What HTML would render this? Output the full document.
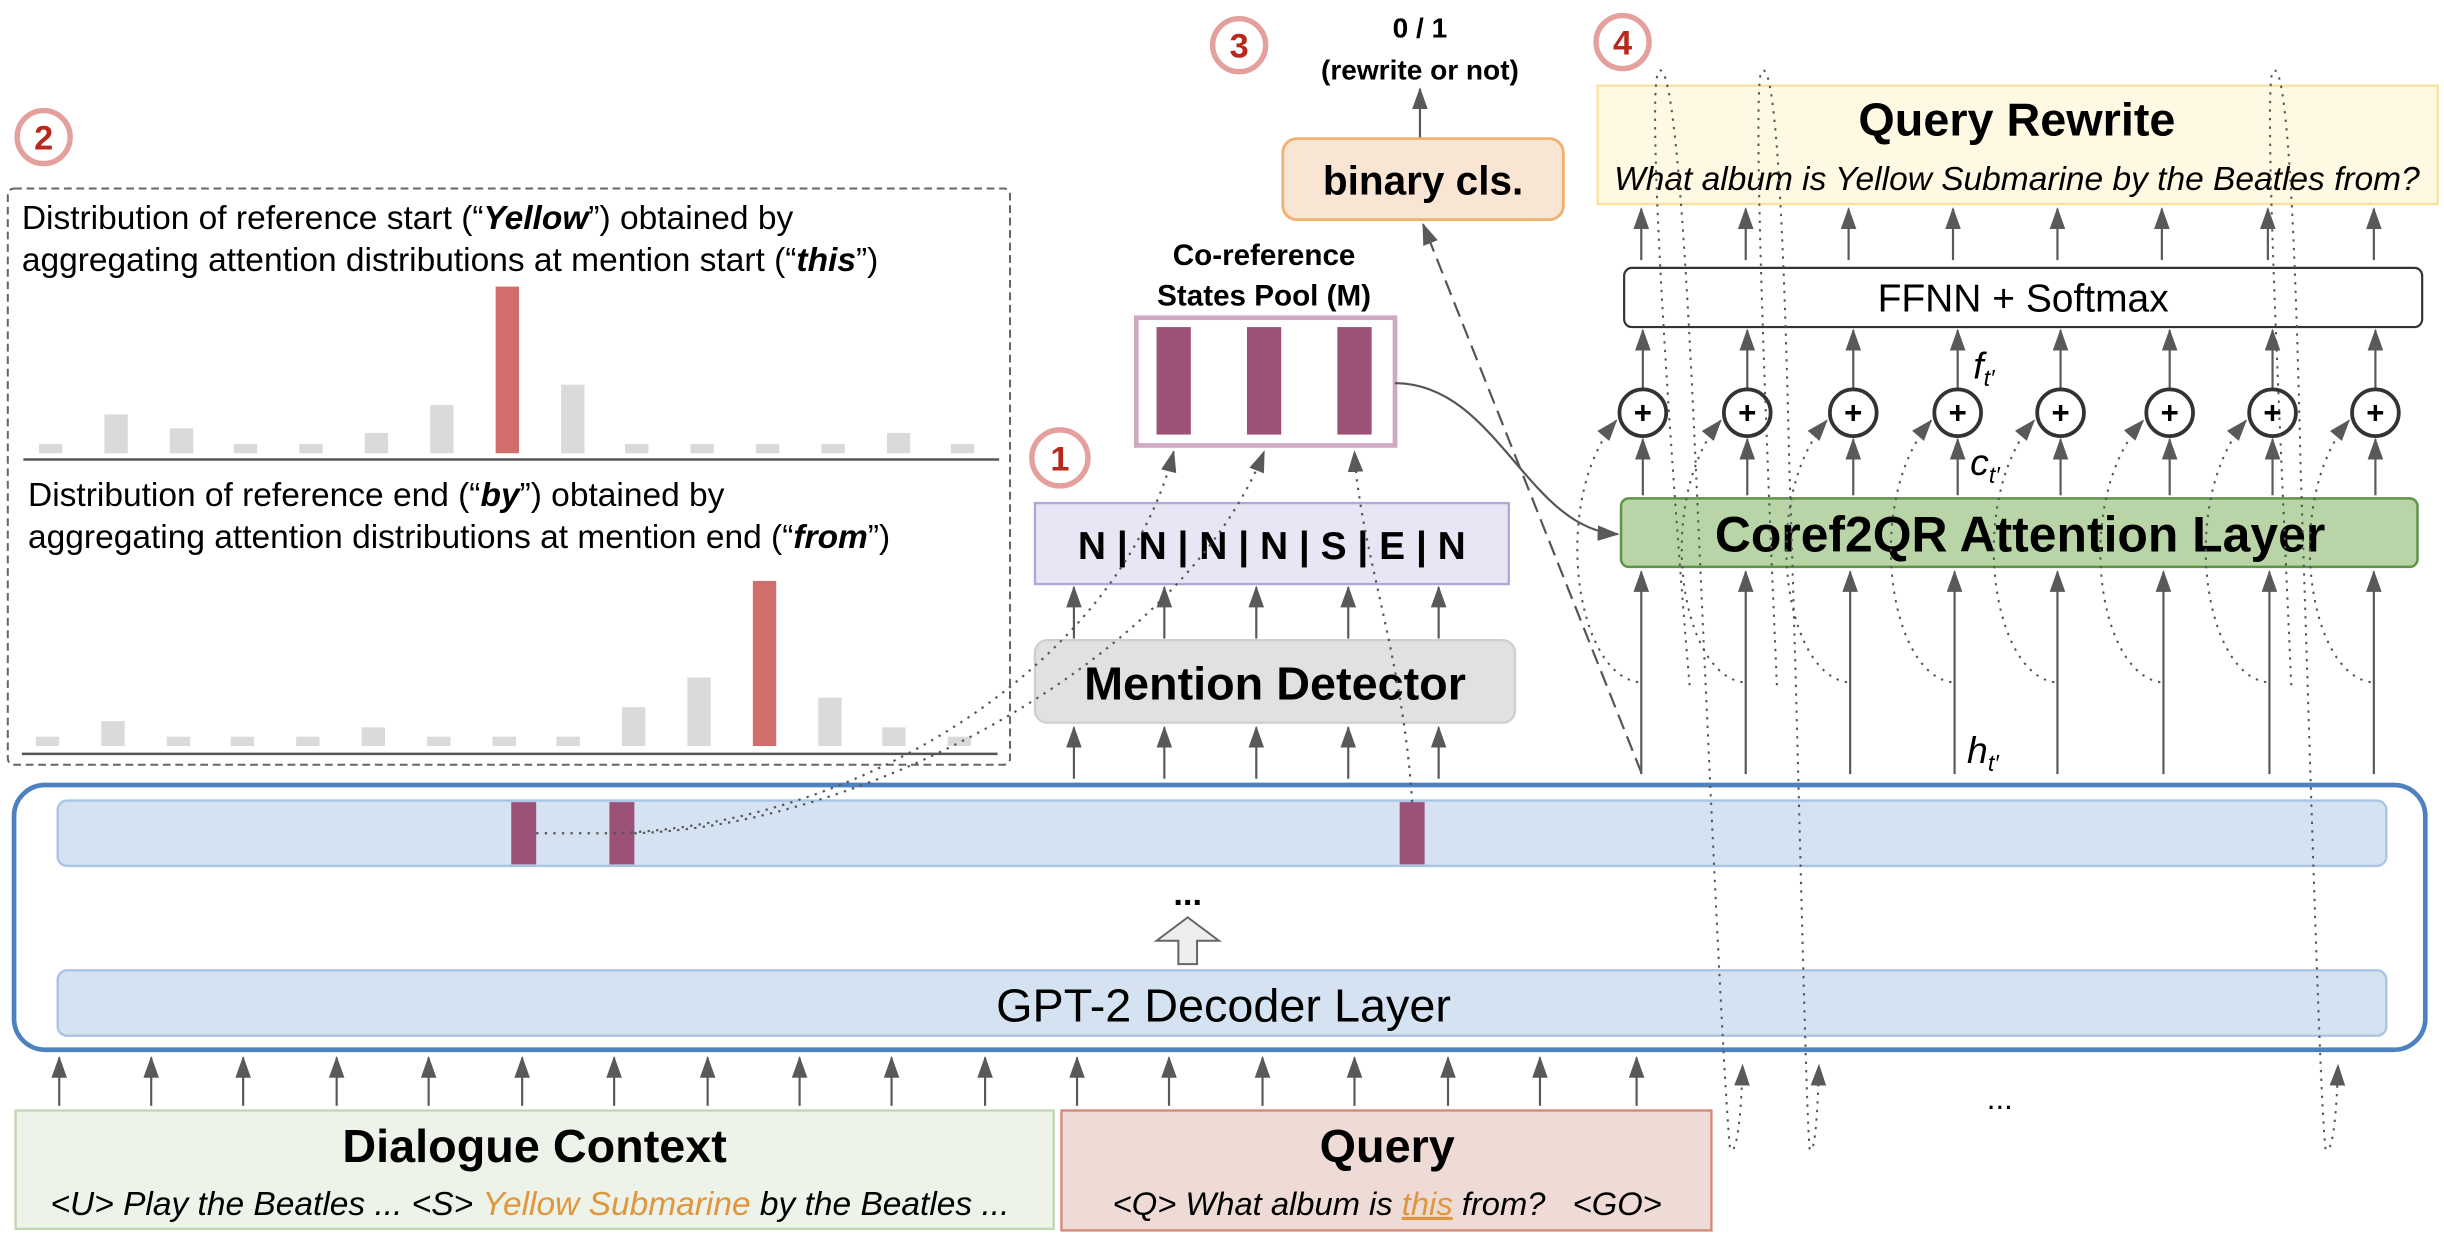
<!DOCTYPE html>
<html><head><meta charset="utf-8"><style>
html,body{margin:0;padding:0;background:#fff;}
svg{display:block;}
text{font-family:"Liberation Sans",Arial,sans-serif;}
</style></head><body>
<svg width="2444" height="1246" viewBox="0 0 1568 800" preserveAspectRatio="none" xmlns="http://www.w3.org/2000/svg">
<defs>
<marker id="ah" markerUnits="userSpaceOnUse" markerWidth="14" markerHeight="10" refX="13" refY="5" orient="auto">
<path d="M0,0 L14,5 L0,10 z" fill="#595959"/></marker>
</defs>

<!-- badge 2 -->
<circle cx="28" cy="88" r="17" fill="#fff" stroke="#e3a09c" stroke-width="3.5"/>
<text x="28" y="96" font-size="22" font-weight="bold" fill="#b8281e" text-anchor="middle">2</text>

<!-- dashed box -->
<rect x="5" y="121" width="643" height="370" rx="4" fill="none" stroke="#666" stroke-width="1.3" stroke-dasharray="5,3"/>
<text x="14" y="147" font-size="21.5">Distribution of reference start (“<tspan font-weight="bold" font-style="italic">Yellow</tspan>”) obtained by</text>
<text x="14" y="174" font-size="21.5">aggregating attention distributions at mention start (“<tspan font-weight="bold" font-style="italic">this</tspan>”)</text>
<g fill="#dadada">
<rect x="25" y="285" width="15" height="6"/><rect x="67" y="266" width="15" height="25"/><rect x="109" y="275" width="15" height="16"/>
<rect x="150" y="285" width="15" height="6"/><rect x="192" y="285" width="15" height="6"/><rect x="234" y="278" width="15" height="13"/>
<rect x="276" y="260" width="15" height="31"/><rect x="360" y="247" width="15" height="44"/>
<rect x="401" y="285" width="15" height="6"/><rect x="443" y="285" width="15" height="6"/><rect x="485" y="285" width="15" height="6"/>
<rect x="527" y="285" width="15" height="6"/><rect x="569" y="278" width="15" height="13"/><rect x="610" y="285" width="15" height="6"/>
</g>
<rect x="318" y="184" width="15" height="107" fill="#d16d6a"/>
<line x1="15" y1="295" x2="641" y2="295" stroke="#555" stroke-width="1.6"/>

<text x="18" y="325" font-size="21.5">Distribution of reference end (“<tspan font-weight="bold" font-style="italic">by</tspan>”) obtained by</text>
<text x="18" y="352" font-size="21.5">aggregating attention distributions at mention end (“<tspan font-weight="bold" font-style="italic">from</tspan>”)</text>
<g fill="#dadada">
<rect x="23" y="473" width="15" height="6"/><rect x="65" y="463" width="15" height="16"/><rect x="107" y="473" width="15" height="6"/>
<rect x="148" y="473" width="15" height="6"/><rect x="190" y="473" width="15" height="6"/><rect x="232" y="467" width="15" height="12"/>
<rect x="274" y="473" width="15" height="6"/><rect x="316" y="473" width="15" height="6"/><rect x="357" y="473" width="15" height="6"/>
<rect x="399" y="454" width="15" height="25"/><rect x="441" y="435" width="15" height="44"/><rect x="525" y="448" width="15" height="31"/>
<rect x="566" y="467" width="15" height="12"/><rect x="608" y="473" width="15" height="6"/>
</g>
<rect x="483" y="373" width="15" height="106" fill="#d16d6a"/>
<line x1="14" y1="484" x2="640" y2="484" stroke="#555" stroke-width="1.6"/>

<!-- big GPT container -->
<rect x="9" y="504" width="1547" height="170" rx="20" fill="#fff" stroke="#4e81c0" stroke-width="3"/>
<rect x="37" y="514" width="1494" height="42" rx="6" fill="#d5e2f1" stroke="#a9c4e4" stroke-width="1.5"/>
<rect x="328" y="515" width="16" height="40" fill="#9b5178"/>
<rect x="391" y="515" width="16" height="40" fill="#9b5178"/>
<rect x="898" y="515" width="16" height="40" fill="#9b5178"/>
<text x="762" y="581" font-size="22" font-weight="bold" text-anchor="middle">...</text>
<path d="M756,619 L768,619 L768,604 L782,604 L762,589 L742,604 L756,604 Z" fill="#eee" stroke="#666" stroke-width="1.3"/>
<rect x="37" y="623" width="1494" height="42" rx="6" fill="#d5e2f1" stroke="#a9c4e4" stroke-width="1.5"/>
<text x="785" y="656" font-size="30" text-anchor="middle">GPT-2 Decoder Layer</text>

<!-- input arrows -->
<g stroke="#595959" stroke-width="1.4" marker-end="url(#ah)">
<line x1="38" y1="710" x2="38" y2="679"/><line x1="97" y1="710" x2="97" y2="679"/><line x1="156" y1="710" x2="156" y2="679"/>
<line x1="216" y1="710" x2="216" y2="679"/><line x1="275" y1="710" x2="275" y2="679"/><line x1="335" y1="710" x2="335" y2="679"/>
<line x1="394" y1="710" x2="394" y2="679"/><line x1="454" y1="710" x2="454" y2="679"/><line x1="513" y1="710" x2="513" y2="679"/>
<line x1="572" y1="710" x2="572" y2="679"/><line x1="632" y1="710" x2="632" y2="679"/><line x1="691" y1="710" x2="691" y2="679"/>
<line x1="750" y1="710" x2="750" y2="679"/><line x1="810" y1="710" x2="810" y2="679"/><line x1="869" y1="710" x2="869" y2="679"/>
<line x1="929" y1="710" x2="929" y2="679"/><line x1="988" y1="710" x2="988" y2="679"/><line x1="1050" y1="710" x2="1050" y2="679"/>
</g>

<!-- Dialogue context / Query -->
<rect x="10" y="713" width="666" height="76" fill="#edf3e9" stroke="#c0d8b0" stroke-width="1.5"/>
<text x="343" y="746" font-size="30" font-weight="bold" text-anchor="middle">Dialogue Context</text>
<text x="340" y="780" font-size="21.5" font-style="italic" text-anchor="middle">&lt;U&gt; Play the Beatles ... &lt;S&gt; <tspan fill="#e0963e">Yellow Submarine</tspan> by the Beatles ...</text>
<rect x="681" y="713" width="417" height="77" fill="#efdbd6" stroke="#d5887a" stroke-width="1.5"/>
<text x="890" y="746" font-size="30" font-weight="bold" text-anchor="middle">Query</text>
<text x="890" y="780" font-size="21" font-style="italic" text-anchor="middle" xml:space="preserve">&lt;Q&gt; What album is <tspan fill="#e0963e" text-decoration="underline">this</tspan> from?   &lt;GO&gt;</text>

<!-- mention detector -->
<rect x="664" y="411" width="308" height="53" rx="8" fill="#e1e1e1" stroke="#cfcfcf" stroke-width="1.5"/>
<text x="818" y="449" font-size="30" font-weight="bold" text-anchor="middle">Mention Detector</text>
<g stroke="#595959" stroke-width="1.4" marker-end="url(#ah)">
<line x1="689" y1="500" x2="689" y2="467"/><line x1="747" y1="500" x2="747" y2="467"/><line x1="806" y1="500" x2="806" y2="467"/>
<line x1="865" y1="500" x2="865" y2="467"/><line x1="923" y1="500" x2="923" y2="467"/>
<line x1="689" y1="410" x2="689" y2="377"/><line x1="747" y1="410" x2="747" y2="377"/><line x1="806" y1="410" x2="806" y2="377"/>
<line x1="865" y1="410" x2="865" y2="377"/><line x1="923" y1="410" x2="923" y2="377"/>
</g>
<rect x="664" y="323" width="304" height="52" fill="#e8e5f4" stroke="#b0a8d8" stroke-width="1.5"/>
<text x="816" y="359" font-size="25" font-weight="bold" text-anchor="middle">N | N | N | N | S | E | N</text>

<!-- badge 1 -->
<circle cx="680" cy="294" r="18" fill="#fff" stroke="#e3a09c" stroke-width="3.5"/>
<text x="680" y="302" font-size="22" font-weight="bold" fill="#b8281e" text-anchor="middle">1</text>

<!-- pool -->
<text x="811" y="170" font-size="19" font-weight="bold" text-anchor="middle">Co-reference</text>
<text x="811" y="196" font-size="19" font-weight="bold" text-anchor="middle">States Pool (M)</text>
<rect x="729" y="204" width="166" height="82" fill="#fff" stroke="#d1a8c2" stroke-width="3"/>
<rect x="742" y="210" width="22" height="69" fill="#9b5178"/>
<rect x="800" y="210" width="22" height="69" fill="#9b5178"/>
<rect x="858" y="210" width="22" height="69" fill="#9b5178"/>

<!-- dotted from bars -->
<g fill="none" stroke="#555" stroke-width="1.4" stroke-dasharray="1.5,4">
<path d="M344,535 L392,535 C560,530 720,420 753,290" marker-end="url(#ah)"/>
<path d="M407,535 C560,530 760,420 811,290" marker-end="url(#ah)"/>
<path d="M906,515 C900,420 872,350 869,290" marker-end="url(#ah)"/>
</g>

<!-- binary cls -->
<circle cx="795" cy="29" r="17" fill="#fff" stroke="#e3a09c" stroke-width="3.5"/>
<text x="795" y="37" font-size="22" font-weight="bold" fill="#b8281e" text-anchor="middle">3</text>
<text x="911" y="24" font-size="18" font-weight="bold" text-anchor="middle">0 / 1</text>
<text x="911" y="51" font-size="18" font-weight="bold" text-anchor="middle">(rewrite or not)</text>
<line x1="911" y1="89" x2="911" y2="57" stroke="#595959" stroke-width="1.4" marker-end="url(#ah)"/>
<rect x="823" y="89" width="180" height="52" rx="9" fill="#f9e5d3" stroke="#f0b070" stroke-width="1.8"/>
<text x="913" y="125" font-size="26" font-weight="bold" text-anchor="middle">binary cls.</text>
<path d="M1053,496 L913,144" stroke="#555" stroke-width="1.4" stroke-dasharray="10,5" fill="none" marker-end="url(#ah)"/>

<!-- pool to coref curve -->
<path d="M895,246 C960,246 980,340 1038,343" fill="none" stroke="#555" stroke-width="1.4" marker-end="url(#ah)"/>

<!-- badge 4 & query rewrite -->
<circle cx="1041" cy="27" r="17" fill="#fff" stroke="#e3a09c" stroke-width="3.5"/>
<text x="1041" y="35" font-size="22" font-weight="bold" fill="#b8281e" text-anchor="middle">4</text>
<rect x="1025" y="55" width="539" height="76" fill="#fff8e2" stroke="#f7e2a0" stroke-width="1.5"/>
<text x="1294" y="87" font-size="30" font-weight="bold" text-anchor="middle">Query Rewrite</text>
<text x="1294" y="122" font-size="21.5" font-style="italic" text-anchor="middle">What album is Yellow Submarine by the Beatles from?</text>

<rect x="1042" y="172" width="512" height="38" rx="5" fill="#fff" stroke="#333" stroke-width="1.4"/>
<text x="1298" y="200" font-size="25" text-anchor="middle">FFNN + Softmax</text>

<rect x="1040" y="320" width="511" height="44" rx="5" fill="#b9d5a8" stroke="#5f9448" stroke-width="1.6"/>
<text x="1296" y="354" font-size="32" font-weight="bold" text-anchor="middle">Coref2QR Attention Layer</text>

<g stroke="#595959" stroke-width="1.4" fill="none" marker-end="url(#ah)">
<line x1="1053" y1="167" x2="1053" y2="134"/><line x1="1120" y1="167" x2="1120" y2="134"/><line x1="1186" y1="167" x2="1186" y2="134"/><line x1="1253" y1="167" x2="1253" y2="134"/>
<line x1="1320" y1="167" x2="1320" y2="134"/><line x1="1387" y1="167" x2="1387" y2="134"/><line x1="1455" y1="167" x2="1455" y2="134"/><line x1="1523" y1="167" x2="1523" y2="134"/>
<line x1="1054" y1="249" x2="1054" y2="212"/><line x1="1121" y1="249" x2="1121" y2="212"/><line x1="1189" y1="249" x2="1189" y2="212"/><line x1="1256" y1="249" x2="1256" y2="212"/>
<line x1="1322" y1="249" x2="1322" y2="212"/><line x1="1392" y1="249" x2="1392" y2="212"/><line x1="1458" y1="249" x2="1458" y2="212"/><line x1="1524" y1="249" x2="1524" y2="212"/>
<line x1="1054" y1="318" x2="1054" y2="282"/><line x1="1121" y1="318" x2="1121" y2="282"/><line x1="1189" y1="318" x2="1189" y2="282"/><line x1="1256" y1="318" x2="1256" y2="282"/>
<line x1="1322" y1="318" x2="1322" y2="282"/><line x1="1392" y1="318" x2="1392" y2="282"/><line x1="1458" y1="318" x2="1458" y2="282"/><line x1="1524" y1="318" x2="1524" y2="282"/>
<line x1="1053" y1="497" x2="1053" y2="367"/><line x1="1120" y1="497" x2="1120" y2="367"/><line x1="1187" y1="497" x2="1187" y2="367"/><line x1="1254" y1="497" x2="1254" y2="367"/>
<line x1="1320" y1="497" x2="1320" y2="367"/><line x1="1388" y1="497" x2="1388" y2="367"/><line x1="1456" y1="497" x2="1456" y2="367"/><line x1="1523" y1="497" x2="1523" y2="367"/>
</g>
<g fill="#fff" stroke="#333" stroke-width="2.4">
<circle cx="1054" cy="265" r="15"/><circle cx="1121" cy="265" r="15"/><circle cx="1189" cy="265" r="15"/><circle cx="1256" cy="265" r="15"/>
<circle cx="1322" cy="265" r="15"/><circle cx="1392" cy="265" r="15"/><circle cx="1458" cy="265" r="15"/><circle cx="1524" cy="265" r="15"/>
</g>
<g font-size="20" font-weight="bold" text-anchor="middle">
<text x="1054" y="272">+</text><text x="1121" y="272">+</text><text x="1189" y="272">+</text><text x="1256" y="272">+</text>
<text x="1322" y="272">+</text><text x="1392" y="272">+</text><text x="1458" y="272">+</text><text x="1524" y="272">+</text>
</g>

<!-- dotted feedback curves -->
<g fill="none" stroke="#555" stroke-width="1.3" stroke-dasharray="1.5,4" marker-end="url(#ah)">
<path d="M1051,438 C1010,432 995,320 1037,270"/>
<path d="M1118,438 C1077,432 1062,320 1104,270"/>
<path d="M1185,438 C1144,432 1129,320 1172,270"/>
<path d="M1252,438 C1211,432 1196,320 1239,270"/>
<path d="M1318,438 C1277,432 1262,320 1305,270"/>
<path d="M1386,438 C1345,432 1330,320 1375,270"/>
<path d="M1454,438 C1413,432 1398,320 1441,270"/>
<path d="M1521,438 C1480,432 1465,320 1507,270"/>
</g>
<!-- long loops (top arc down to bottom, up into arrow) -->
<g fill="none" stroke="#555" stroke-width="1.3" stroke-dasharray="1.5,4" marker-end="url(#ah)">
<path d="M1084,440 C1072,300 1056,60 1064,46 C1072,36 1080,120 1088,300 C1096,480 1106,700 1110,738 C1114,742 1117,720 1118,684"/>
<path d="M1140,440 C1134,300 1124,60 1130,46 C1138,36 1144,120 1148,300 C1154,480 1158,700 1161,738 C1164,742 1166,720 1167,684"/>
<path d="M1470,440 C1464,300 1452,60 1458,46 C1466,36 1472,120 1476,300 C1482,480 1488,700 1492,738 C1496,742 1499,720 1500,684"/>
</g>
<text x="1283" y="712" font-size="20" text-anchor="middle">...</text>

<!-- math labels -->
<text x="1266" y="243" font-size="24" font-style="italic" font-family="Liberation Serif,serif">f<tspan font-size="15" dy="5">t′</tspan></text>
<text x="1264" y="305" font-size="24" font-style="italic" font-family="Liberation Serif,serif">c<tspan font-size="15" dy="5">t′</tspan></text>
<text x="1262" y="490" font-size="24" font-style="italic" font-family="Liberation Serif,serif">h<tspan font-size="15" dy="5">t′</tspan></text>
</svg>
</body></html>
